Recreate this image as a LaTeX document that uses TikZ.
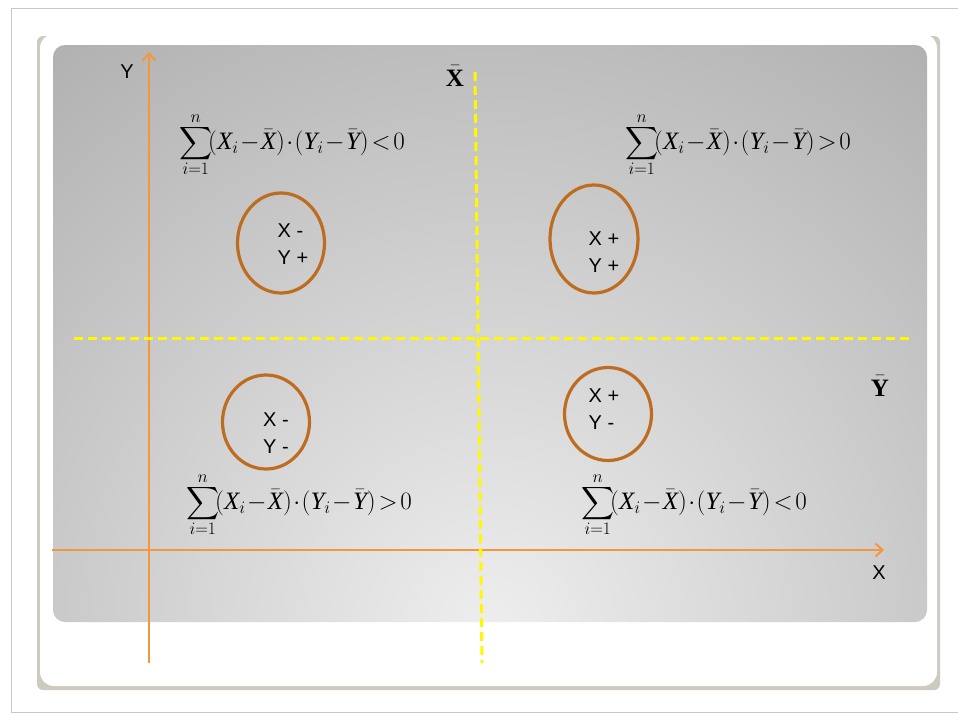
\RequirePackage{fix-cm}
\documentclass[tikz,border=0pt]{standalone}
\usepackage{graphicx}
\usepackage{fontspec}
\setmainfont{Liberation Serif}
\setsansfont{Liberation Sans}
\usepackage{tikz}
\usetikzlibrary{shapes.geometric,arrows.meta,positioning}
\definecolor{axisorange}{RGB}{244,150,62}
\definecolor{ringbrown}{RGB}{190,108,32}
\definecolor{guideyellow}{RGB}{255,248,0}
\definecolor{paneldark}{RGB}{150,150,150}
\definecolor{panellight}{RGB}{238,238,238}
\definecolor{shadowtan}{RGB}{206,202,192}
\definecolor{framegray}{RGB}{200,200,200}
\newcommand{\bigsigma}{\mathop{\vcenter{\hbox{\scalebox{2.3}{$\displaystyle\sum$}}}}\limits}
\newcommand{\covsum}[1]{$\displaystyle\bigsigma_{i=1}^{n}\!(\textit{X}_i\!-\!\bar{\textit{X}})\!\cdot\!(\textit{Y}_i\!-\!\bar{\textit{Y}})\!#1\!0$}
\newcommand{\meanof}[1]{$\bar{\vphantom{\mathbf{l}}\mathbf{#1}}$}

\begin{document}
\begin{tikzpicture}[
    x=1pt, y=-1pt,
    axis/.style={draw=axisorange, line width=2pt, -{Straight Barb[length=7pt,width=13pt]}},
    guide/.style={draw=guideyellow, line width=3pt, dash pattern=on 9pt off 5pt},
    ring/.style={ellipse, draw=ringbrown, line width=3.2pt, inner sep=0pt},
    signs/.style={font=\sffamily\fontsize{20}{27}\selectfont, align=left, inner sep=0pt},
    axislabel/.style={font=\sffamily\fontsize{20}{24}\selectfont, inner sep=0pt},
    meanlabel/.style={font=\fontsize{25}{28}\selectfont, inner sep=0pt},
    sumlabel/.style={font=\fontsize{25}{29}\selectfont, inner sep=0pt}
]
\useasboundingbox (0,0) rectangle (958,715);

% slide frame
\draw[framegray, line width=1pt] (958,8) -- (11,8) -- (11,712) -- (958,712);
\fill[shadowtan, rounded corners=6pt] (37,36) rectangle (940,690);
\fill[white, rounded corners=14pt] (40,34) rectangle (937,686);
\begin{scope}
  \clip[rounded corners=12pt] (53,45) rectangle (927,622);
  \shade[inner color=panellight, outer color=paneldark] (490,630) circle (1050);
\end{scope}

% axes
\coordinate (yfoot) at (149,663);
\coordinate (ytip) at (149,52);
\coordinate (xfoot) at (52,550);
\coordinate (xtip) at (884,550);
\draw[axis] (yfoot) -- (ytip);
\draw[axis] (xfoot) -- (xtip);
\node[axislabel] (ylab) at (127,72) {Y};
\node[axislabel] (xlab) at (879,573) {X};

% mean lines
\coordinate (xbartop) at (475,72);
\coordinate (xbarfoot) at (482,663);
\coordinate (ybarleft) at (74,338);
\coordinate (ybarright) at (912,338);
\draw[guide] (xbartop) -- (xbarfoot);
\draw[guide] (ybarleft) -- (ybarright);
\node[meanlabel] (xbar) at (455,76) {\meanof{X}};
\node[meanlabel] (ybar) at (880,386) {\meanof{Y}};

% quadrants
\node[ring, minimum width=87pt, minimum height=100pt] (ringnw) at (281,243) {};
\node[ring, minimum width=88pt, minimum height=108pt] (ringne) at (594,239) {};
\node[ring, minimum width=87pt, minimum height=94pt] (ringsw) at (266,422) {};
\node[ring, minimum width=87pt, minimum height=93pt] (ringse) at (608,414) {};
\node[signs] (signnw) at (293,244) {X -\\Y +};
\node[signs] (signne) at (604,252) {X +\\Y +};
\node[signs] (signsw) at (276,433) {X -\\Y -};
\node[signs] (signse) at (604,409) {X +\\Y -};

\node[sumlabel] (sumnw) at (292,145) {\covsum{<}};
\node[sumlabel] (sumne) at (738,145) {\covsum{>}};
\node[sumlabel] (sumsw) at (299,505) {\covsum{>}};
\node[sumlabel] (sumse) at (694,505) {\covsum{<}};

\end{tikzpicture}
\end{document}
